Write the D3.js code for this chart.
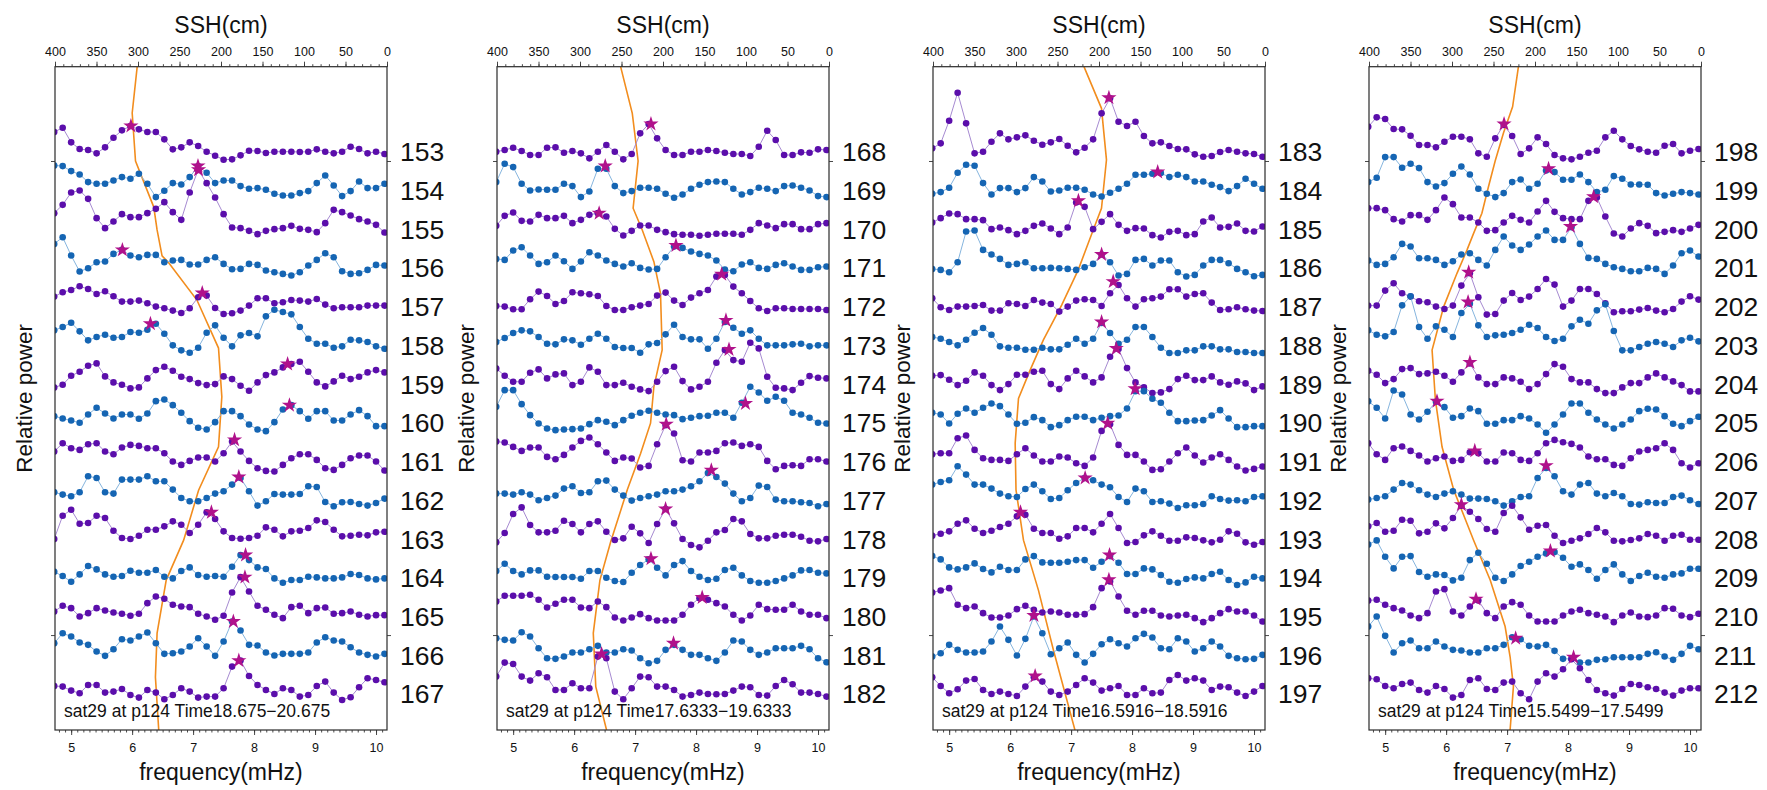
<!DOCTYPE html>
<html><head><meta charset="utf-8">
<script src="https://cdn.jsdelivr.net/npm/d3@7"></script>
<style>
body{margin:0;background:#fff}
svg{display:block}
text{font-family:"Liberation Sans",Arial,Helvetica,sans-serif}
</style>
</head><body>
<svg id="chart" width="1767" height="790"></svg>
<script>
// ---------- data ----------
const freqBins = [4.722,4.861,5.000,5.139,5.278,5.417,5.556,5.694,5.833,5.972,6.111,6.250,6.389,6.528,6.667,6.806,6.944,7.083,7.222,7.361,7.500,7.639,7.778,7.917,8.056,8.194,8.333,8.472,8.611,8.750,8.889,9.028,9.167,9.306,9.444,9.583,9.722,9.861,10.000,10.139];
const freqTicks = [5,6,7,8,9,10];
const sshTicks = [400,350,300,250,200,150,100,50,0];
const timeTickIndex = [0.24, 12.48];

// Panel 1
const labels1 = [153,154,155,156,157,158,159,160,161,162,163,164,165,166,167];
const power1 = [
[59,72,28,8,5,-5,13,42,64,77,67,59,59,37,7,13,28,17,0,-12,-24,-23,-11,3,2,-4,0,0,0,-1,0,7,0,-5,0,15,8,-5,0,-7],
[75,73,58,48,25,20,20,30,40,35,50,20,-20,-1,22,18,40,73,53,22,30,30,13,5,7,2,-10,-15,-15,-8,-2,22,45,15,-17,-2,27,7,7,20],
[48,73,110,116,91,33,3,23,45,36,36,48,61,81,51,28,110,178,138,95,45,5,3,-5,-15,-5,0,3,10,1,-2,-9,18,58,51,41,30,23,13,-10],
[72,92,37,-11,-1,17,19,42,54,37,32,39,39,17,22,24,10,10,24,32,12,-4,-3,12,9,-8,-13,-18,-23,-13,7,24,44,32,-10,-18,-16,-6,9,7],
[30,43,50,61,53,38,46,31,15,15,18,10,0,-5,-12,-19,-5,28,33,-4,-22,-20,-12,3,25,25,10,13,20,18,15,23,6,-5,-2,-2,-2,3,3,3],
[45,55,68,42,15,25,32,23,25,40,38,47,65,35,0,-15,-22,-7,38,60,23,-3,30,37,27,87,107,100,93,55,20,5,5,-7,-3,17,15,10,-3,-10],
[-10,-2,25,37,55,62,23,5,-2,-13,-10,17,42,52,40,22,15,3,-3,0,23,15,-5,-20,5,27,35,50,60,67,37,5,-7,8,25,15,22,35,42,35],
[20,13,7,0,25,45,28,13,25,25,12,28,65,70,53,30,5,-15,-20,2,35,35,20,-5,-20,-25,2,40,53,35,12,35,35,7,7,25,38,20,-10,-10],
[30,55,40,35,52,55,30,22,42,50,47,40,40,25,0,-10,2,12,12,0,25,60,30,2,-20,-28,-30,-10,10,22,22,5,-20,-25,-10,10,18,18,0,-27],
[24,17,12,24,72,67,24,20,62,62,62,72,57,57,32,7,-3,-3,7,20,27,47,67,27,-16,-3,19,17,17,19,42,40,-5,-18,-6,-5,-11,-16,-8,5],
[0,70,88,46,48,70,63,25,3,0,10,28,28,38,53,43,18,43,80,60,23,3,1,3,10,35,28,8,23,25,33,56,51,28,8,10,13,11,20,22],
[18,5,-12,10,35,25,10,3,5,21,15,15,23,3,-2,20,31,8,3,5,3,33,68,53,31,26,-2,-15,-7,-7,3,1,-2,-2,1,11,8,-2,-5,-2],
[15,32,25,0,10,25,18,12,8,2,8,40,60,53,35,30,28,8,0,-10,2,72,118,75,32,20,5,-5,28,32,10,25,27,8,10,15,5,0,4,4],
[36,66,56,38,31,11,-2,18,48,44,56,68,36,4,6,11,26,51,26,-2,41,101,74,31,29,8,-1,4,4,4,8,38,54,44,41,24,8,1,-4,4],
[24,22,10,2,27,27,4,7,15,-3,-11,12,4,-16,-3,17,7,-11,-8,-8,17,82,100,54,27,12,0,17,12,-8,-3,24,37,4,-18,-10,20,47,42,35]
];
const starFreq1 = [5.98,7.08,7.09,5.84,7.15,6.30,8.55,8.58,7.68,7.75,7.30,7.86,7.85,7.66,7.75];
const starPower1 = [77,73,178,54,41,65,60,53,65,70,80,68,118,101,100];
const sshIndex1 = [-2.19,-1.0,0.24,1.43,2.02,2.69,2.87,3.83,5.07,6.33,7.62,8.74,10.03,11.06,12.43,13.57,14.94];
const sshCm1 = [301,307,303,281,277,271,263,229,203,199,203,227,245,266,277,279,275];
const note1 = "sat29 at p124 Time18.675\u221220.675";

// Panel 2
const labels2 = [168,169,170,171,172,173,174,175,176,177,178,179,180,181,182];
const power2 = [
[0,5,12,2,-10,-10,12,13,-3,2,-5,-20,0,20,0,-23,-7,55,83,40,5,-10,-10,0,0,5,2,-3,-7,-7,-13,15,63,35,-10,-10,-2,-3,7,5],
[25,80,70,20,0,3,2,2,20,13,-20,-3,65,65,13,-8,-2,8,8,5,-10,-22,-12,5,17,25,27,25,5,-12,-5,8,5,-2,13,15,8,0,-17,-20],
[10,40,50,25,23,43,33,33,40,18,28,43,48,38,1,-19,-5,11,11,-2,-9,-15,-17,-17,-20,-17,-14,-14,-14,-17,-2,18,11,3,15,15,0,0,15,18],
[27,24,52,62,37,12,17,37,20,-3,19,47,37,22,12,4,14,0,-5,-3,32,64,60,49,42,37,22,-5,-10,10,17,0,-3,9,14,4,-6,-6,2,4],
[2,0,-8,-8,22,45,32,8,17,43,40,37,32,2,-10,-10,-2,3,8,33,42,18,5,27,40,50,90,95,60,40,17,-5,-13,-5,-5,-7,-7,-7,-7,-10],
[10,22,37,45,42,25,5,3,18,15,2,20,35,20,-5,-8,-8,-22,3,7,33,62,25,18,18,-10,20,70,53,35,45,20,0,0,0,3,5,-3,0,0],
[47,25,7,7,34,44,17,29,32,-3,7,50,37,-3,-3,4,-8,-16,-21,7,39,52,9,-16,-8,7,64,102,72,67,124,107,22,-11,-13,-18,4,24,19,17],
[48,98,98,56,23,-2,-17,-22,-20,-19,-17,-4,8,3,-7,8,21,30,36,30,25,23,11,15,20,21,30,30,15,60,108,91,66,78,66,30,25,15,0,-2],
[60,57,44,32,42,42,14,7,20,42,62,72,52,27,2,12,9,-18,-13,52,109,84,4,0,27,27,32,55,57,47,52,44,2,-23,-13,-11,-13,7,7,0],
[20,20,17,24,17,0,7,14,35,42,22,24,57,59,32,14,-1,7,12,17,27,27,32,42,57,82,70,50,20,-3,7,44,40,2,-3,-3,-6,-8,-18,-11],
[-10,18,75,95,42,20,20,25,55,45,20,45,53,22,-3,2,37,17,-12,45,90,47,0,-18,-25,-5,20,27,60,53,15,2,2,10,13,13,7,-5,-7,0],
[20,42,20,10,22,22,3,2,2,2,-3,20,20,0,-10,-13,15,38,55,30,7,38,50,20,3,-7,-3,23,30,7,-10,-15,-15,-10,-2,7,22,23,15,13],
[45,62,62,62,65,50,27,38,50,50,27,25,45,28,-3,-12,-3,7,-5,-12,-12,-12,5,35,55,50,40,30,5,-12,3,35,22,20,20,35,15,5,5,-5],
[51,46,44,69,56,21,-9,-11,-4,8,8,18,28,8,8,18,14,-9,-24,-17,16,31,16,1,1,-9,-17,8,44,41,16,1,8,21,21,21,28,18,-9,-21],
[52,94,90,52,40,62,50,12,12,32,17,17,112,107,7,-16,17,52,50,22,22,12,-8,-3,4,0,-1,0,10,22,20,-3,-5,24,42,29,4,4,0,-8]
];
const starFreq2 = [7.26,6.51,6.41,7.67,8.42,8.49,8.54,8.81,7.51,8.25,7.50,7.26,8.10,7.63,6.45];
const starPower2 = [83,73,48,67,97,75,104,58,112,90,90,57,57,36,120];
const sshIndex2 = [-2.19,-0.99,0.24,1.46,2.02,2.84,3.66,5.12,6.07,7.01,7.79,8.73,10.07,11.06,12.43,13.81,14.93];
const sshCm2 = [251,237,230,236,225,211,203,201,211,215,227,243,263,276,284,281,268];
const note2 = "sat29 at p124 Time17.6333\u221219.6333";

// Panel 3
const labels3 = [183,184,185,186,187,188,189,190,191,192,193,194,195,196,197];
const power3 = [
[10,25,93,177,85,-5,0,30,55,37,43,49,33,21,28,38,18,-2,12,37,115,160,90,77,90,47,25,28,17,8,7,-8,-15,-13,-1,5,0,-5,-7,-15],
[-10,-5,8,53,77,74,22,-12,7,7,-5,7,40,27,-3,0,8,8,2,-12,-18,-7,5,20,47,47,50,52,40,47,40,27,27,17,10,-2,13,35,20,5],
[20,33,47,45,30,30,27,0,5,-3,-15,-5,10,17,2,-15,5,80,67,0,22,45,13,-5,3,2,-18,-25,-8,-5,-18,-15,23,35,5,7,17,-5,-7,8],
[-3,-6,-13,17,109,112,54,40,27,9,12,17,-1,-1,0,-1,-3,-6,2,12,40,17,-23,-18,24,27,7,22,22,-13,-26,-21,7,24,24,14,-3,-13,-25,-21],
[25,-2,-10,0,0,2,5,-12,-12,10,8,2,20,12,8,-15,0,18,22,20,2,40,65,25,0,22,25,30,52,52,30,38,40,12,-10,-8,-2,-8,-12,-13],
[25,20,10,0,17,38,52,32,-3,-7,-7,-13,-13,-7,-12,-12,2,20,5,20,67,37,5,17,55,55,25,-7,-23,-23,-15,-15,-3,-3,-12,-12,-20,-20,-23,-23],
[25,27,13,-3,10,35,25,-3,-18,0,28,28,37,40,0,-15,17,40,23,5,20,82,105,48,5,-10,-27,-25,-15,15,25,12,12,23,5,-2,8,2,-18,-7],
[30,25,-2,27,43,30,45,58,50,25,-3,0,17,8,-13,-7,8,18,18,8,15,20,22,43,95,95,72,60,30,5,5,7,8,22,38,13,-13,-13,-10,-10],
[22,25,25,70,78,35,10,5,5,2,22,40,18,0,0,15,12,-5,-13,12,92,112,50,20,20,0,-25,-23,0,25,42,18,-3,12,22,5,-15,-27,-22,-15],
[47,55,60,102,77,47,47,35,20,12,10,34,47,27,4,7,30,52,67,60,47,39,10,-5,35,27,-5,-3,-10,-23,-15,-15,-11,12,4,-1,0,-3,10,12],
[10,16,23,46,56,31,18,25,36,46,68,73,31,18,18,1,8,33,33,20,46,75,33,-12,-9,11,23,10,-5,-5,5,3,-4,-10,-2,23,16,-10,-17,-9],
[65,55,31,25,31,43,26,16,33,23,23,55,65,46,45,45,48,53,53,30,48,65,45,11,11,28,25,8,-12,-15,-4,1,-2,11,18,-7,-22,-14,3,-2],
[72,78,85,35,25,30,10,-3,-3,3,22,32,20,12,15,12,5,5,7,28,85,105,60,17,5,17,17,3,0,3,5,-5,-17,-5,10,22,15,15,3,-15],
[-4,6,31,16,8,8,11,41,86,46,-1,49,116,66,3,21,38,1,-22,4,33,48,36,26,51,64,53,21,18,51,41,11,21,41,26,-2,-9,-12,-11,1],
[50,24,2,14,40,45,12,0,7,0,-6,22,50,37,7,-3,7,27,47,34,10,17,24,-3,-3,17,2,4,42,57,40,47,40,12,22,20,4,-6,7,24]
];
const starFreq3 = [7.62,8.42,7.12,7.50,7.69,7.50,7.74,8.05,7.60,7.23,6.17,7.63,7.62,6.39,6.41];
const starPower3 = [162,55,85,40,75,70,107,102,115,67,80,68,110,119,54];
const sshIndex3 = [-2.19,-1.12,0.21,1.46,2.02,3.05,3.96,4.86,5.64,6.37,7.53,8.73,10.03,11.32,12.86,14.93];
const sshCm3 = [218,197,191,197,207,225,245,267,283,297,301,300,291,273,255,229];
const note3 = "sat29 at p124 Time16.5916\u221218.5916";

// Panel 4
const labels4 = [198,199,200,201,202,203,204,205,206,207,208,209,210,211,212];
const power4 = [
[75,103,98,68,67,48,20,20,13,30,45,45,37,-5,-15,40,80,47,-7,10,43,23,-10,-20,-23,-15,-3,3,43,63,37,17,7,0,-3,18,23,-5,3,8],
[25,38,100,100,68,80,67,25,12,22,50,72,48,5,-10,-20,-8,25,33,5,20,60,55,32,32,48,25,-5,2,43,35,18,18,17,-8,-15,-10,-5,-8,-12],
[63,63,57,30,23,42,42,28,57,95,75,35,35,20,-5,-3,20,40,28,20,53,85,52,33,30,30,85,95,38,-13,-22,2,18,10,-12,-8,-3,-8,2,13],
[22,9,12,32,72,64,29,29,24,9,20,40,44,24,7,54,94,67,54,70,94,112,84,84,122,72,30,27,12,2,-3,-10,-10,0,-3,-18,7,44,52,34],
[3,3,48,70,40,30,16,13,0,-7,3,63,100,28,-24,-22,18,41,20,30,53,83,66,0,18,53,53,38,10,-17,-14,-14,-9,-4,-12,-17,-7,15,31,21],
[45,32,27,40,120,147,55,20,57,47,25,97,125,60,25,30,32,37,47,62,52,25,13,20,57,77,65,105,123,43,-15,-15,-5,5,10,5,-5,15,23,12],
[40,28,3,15,45,48,30,32,37,25,7,35,62,20,0,0,20,17,7,-15,0,30,60,52,15,5,5,-15,-27,-27,-10,3,3,20,32,20,8,-3,-22,-22],
[65,45,13,97,85,25,10,33,63,47,15,20,43,35,-3,-3,8,8,20,13,-5,-30,-5,25,58,58,30,10,-5,-17,-5,10,35,42,40,20,-3,-10,5,18],
[55,22,5,40,45,32,18,0,10,15,2,5,28,25,0,0,27,25,5,2,25,55,65,58,53,42,15,7,7,-10,-13,10,30,35,40,55,35,-5,-18,-5],
[2,7,12,32,52,47,30,17,10,20,27,17,5,5,4,-3,-16,-3,10,12,67,97,72,27,17,47,52,20,12,22,12,-11,-13,-6,-8,-8,10,14,0,-11],
[38,48,22,25,58,55,17,22,47,32,63,100,82,60,30,22,78,100,65,28,40,42,10,-12,-5,2,15,33,20,-5,-7,-3,2,15,10,-5,10,13,-2,-2],
[100,112,63,28,63,65,17,3,10,8,-8,0,53,75,42,0,-10,10,35,48,63,73,77,60,33,40,23,-3,23,40,10,-10,5,15,3,0,10,13,27,27],
[48,50,35,25,18,3,-5,10,75,82,15,3,30,48,10,-5,30,43,35,3,-15,-15,-15,3,15,20,10,5,0,-17,3,12,0,-2,3,25,23,3,-2,8],
[86,116,58,8,36,44,21,21,41,26,16,14,8,8,21,21,31,54,48,28,26,31,13,-11,-11,-22,-22,-14,-12,-6,-6,-6,-6,4,9,-4,-14,4,28,18],
[47,44,24,17,30,34,12,4,24,15,-11,-3,42,47,15,12,34,37,2,-16,37,62,52,74,104,77,42,12,2,-5,15,30,27,20,15,4,-5,10,17,17]
];
const starFreq4 = [6.95,7.68,8.42,8.04,6.37,6.36,6.39,5.85,6.47,7.64,6.25,7.71,6.49,7.14,8.09];
const starPower4 = [83,65,97,124,103,130,65,65,32,104,103,80,52,51,110];
const sshIndex4 = [-2.19,-1.16,-0.48,0.24,0.90,1.59,2.11,2.54,3.14,4.00,5.12,6.41,7.62,8.73,10.03,11.06,12.26,13.04,13.81,14.93];
const sshCm4 = [220,227,238,248,256,264,274,282,294,310,324,320,312,298,274,254,236,230,226,230];
const note4 = "sat29 at p124 Time15.5499\u221217.5499";

const panels = [
  {labels: labels1, power: power1, starFreq: starFreq1, starPower: starPower1, sshIndex: sshIndex1, sshCm: sshCm1, note: note1},
  {labels: labels2, power: power2, starFreq: starFreq2, starPower: starPower2, sshIndex: sshIndex2, sshCm: sshCm2, note: note2},
  {labels: labels3, power: power3, starFreq: starFreq3, starPower: starPower3, sshIndex: sshIndex3, sshCm: sshCm3, note: note3},
  {labels: labels4, power: power4, starFreq: starFreq4, starPower: starPower4, sshIndex: sshIndex4, sshCm: sshCm4, note: note4}
];

// ---------- layout & style ----------
const lefts = [55, 497, 933, 1369];
const W = 332, TOP = 66.7, BOTTOM = 730;
const STEP = 116.2;              // power units between successive series baselines
const COL = {
  purpleDot: "#5b0eab", blueDot: "#1565b3",
  purpleLine: "#a68ad1", blueLine: "#86b5de",
  star: "#b0118b", orange: "#f28d1e", frame: "#2a2a2a", text: "#111"
};

const svg = d3.select("#chart");
const y = d3.scaleLinear().domain([-255, 1735]).range([TOP, BOTTOM]);
const starSym = d3.symbol().type(d3.symbolStar).size(72);

function styleAxis(g, fs) {
  g.select(".domain").remove();
  g.selectAll(".tick line").attr("stroke", "#333").attr("stroke-width", 0.9);
  g.selectAll(".tick text").attr("fill", COL.text).style("font-size", fs + "px");
}

panels.forEach((P, pi) => {
  const L = lefts[pi];
  const x = d3.scaleLinear().domain([4.735, 10.18]).range([L, L + W]);
  const xs = d3.scaleLinear().domain([400, 0]).range([L, L + W]);
  const g = svg.append("g");

  const clipId = "clip" + pi;
  svg.append("clipPath").attr("id", clipId)
    .append("rect").attr("x", L).attr("y", TOP).attr("width", W).attr("height", BOTTOM - TOP);
  const plot = g.append("g").attr("clip-path", `url(#${clipId})`);

  // SSH curve
  plot.append("path")
    .datum(d3.zip(P.sshIndex, P.sshCm))
    .attr("fill", "none").attr("stroke", COL.orange).attr("stroke-width", 1.6)
    .attr("d", d3.line().x(d => xs(d[1])).y(d => y(d[0] * STEP)));

  // spectra
  P.power.forEach((vals, i) => {
    const purple = i % 2 === 0;
    const pts = vals.map((v, k) => [freqBins[k], v]);
    const line = d3.line().x(d => x(d[0])).y(d => y(i * STEP - d[1]));
    plot.append("path").datum(pts)
      .attr("fill", "none").attr("stroke", purple ? COL.purpleLine : COL.blueLine)
      .attr("stroke-width", 1).attr("d", line);
    plot.append("g").selectAll("circle").data(pts).join("circle")
      .attr("cx", d => x(d[0])).attr("cy", d => y(i * STEP - d[1]))
      .attr("r", 3.3).attr("fill", purple ? COL.purpleDot : COL.blueDot);
  });

  // stars
  plot.append("g").selectAll("path").data(P.starFreq.map((f, i) => [f, P.starPower[i], i])).join("path")
    .attr("d", starSym)
    .attr("transform", d => `translate(${x(d[0])},${y(d[2] * STEP - d[1])})`)
    .attr("fill", COL.star);

  // frame
  g.append("rect").attr("x", L).attr("y", TOP).attr("width", W).attr("height", BOTTOM - TOP)
    .attr("fill", "none").attr("stroke", COL.frame).attr("stroke-width", 1.2);

  // bottom axis
  g.append("g").attr("transform", `translate(0,${BOTTOM})`)
    .call(d3.axisBottom(x).tickValues(d3.range(48, 102).map(v => v / 10)).tickSize(2.5).tickFormat(""))
    .call(a => styleAxis(a, 12));
  g.append("g").attr("transform", `translate(0,${BOTTOM})`)
    .call(d3.axisBottom(x).tickValues(freqTicks).tickSize(5).tickPadding(8).tickFormat(d3.format("d")))
    .call(a => styleAxis(a, 12.5));

  // top axis
  g.append("g").attr("transform", `translate(0,${TOP})`)
    .call(d3.axisTop(xs).tickValues(d3.range(0, 401, 10)).tickSize(2.5).tickFormat(""))
    .call(a => styleAxis(a, 12));
  g.append("g").attr("transform", `translate(0,${TOP})`)
    .call(d3.axisTop(xs).tickValues(sshTicks).tickSize(5).tickPadding(5.5).tickFormat(d3.format("d")))
    .call(a => styleAxis(a, 12.5));

  // left/right unlabeled ticks
  const tv = timeTickIndex.map(t => t * STEP);
  g.append("g").attr("transform", `translate(${L},0)`)
    .call(d3.axisLeft(y).tickValues(tv).tickSize(4).tickFormat(""))
    .call(a => styleAxis(a, 12));
  g.append("g").attr("transform", `translate(${L + W},0)`)
    .call(d3.axisRight(y).tickValues(tv).tickSize(4).tickFormat(""))
    .call(a => styleAxis(a, 12));

  // series labels
  g.append("g").selectAll("text").data(P.labels).join("text")
    .attr("x", L + W + 13).attr("y", (d, i) => y(i * STEP) + 9.5)
    .attr("fill", COL.text).style("font-size", "26.5px").text(d => d);

  // titles
  g.append("text").attr("x", L + W / 2).attr("y", 32.5).attr("text-anchor", "middle")
    .attr("fill", COL.text).style("font-size", "23px").text("SSH(cm)");
  g.append("text").attr("x", L + W / 2).attr("y", 780).attr("text-anchor", "middle")
    .attr("fill", COL.text).style("font-size", "23px").text("frequency(mHz)");
  g.append("text").attr("transform", `translate(${L - 23.5},${(TOP + BOTTOM) / 2}) rotate(-90)`)
    .attr("text-anchor", "middle").attr("fill", COL.text).style("font-size", "22.5px").text("Relative power");
  g.append("text").attr("x", L + 9).attr("y", 716.5)
    .attr("fill", COL.text).style("font-size", "17.5px").text(P.note);
});
</script>
</body></html>
